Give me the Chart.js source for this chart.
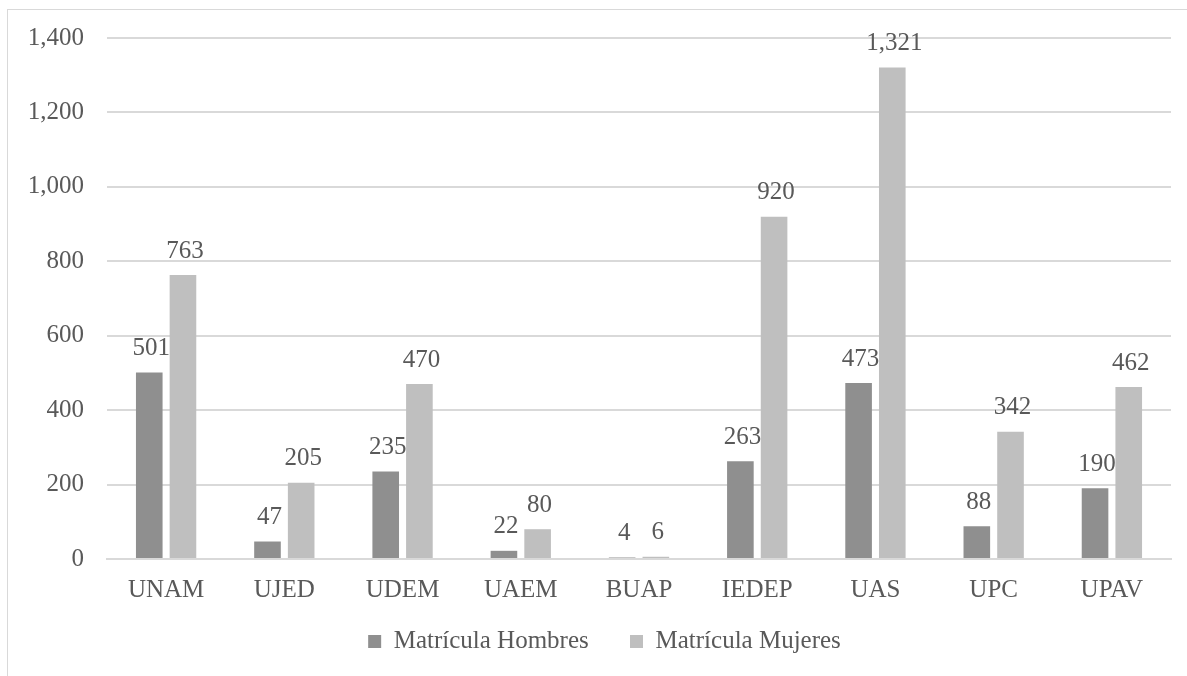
<!DOCTYPE html>
<html>
<head>
<meta charset="utf-8">
<script src="https://cdn.jsdelivr.net/npm/chart.js@4/dist/chart.umd.min.js"></script>
<style>
  html, body { margin: 0; padding: 0; background: #fff; overflow: hidden; }
  #frame {
    position: absolute; left: 7px; top: 9px;
    width: 1200px; height: 700px;
    border: 1px solid #d9d9d9;
  }
  #wrap { position: absolute; left: 0; top: 0; width: 1187px; height: 676px; }
</style>
</head>
<body>
<div id="frame"></div>
<div id="wrap"><canvas id="chart" width="1187" height="676"></canvas></div>
<script>
// =====================
// Data
// =====================
const universidades = ["UNAM", "UJED", "UDEM", "UAEM", "BUAP", "IEDEP", "UAS", "UPC", "UPAV"];
const matriculaHombres = [501, 47, 235, 22, 4, 263, 473, 88, 190];
const matriculaMujeres = [763, 205, 470, 80, 6, 920, 1321, 342, 462];
const ejeYTicks = [0, 200, 400, 600, 800, 1000, 1200, 1400];

const textColor = "#595959";
const fontFamily = "'Liberation Serif', 'Times New Roman', serif";

// =====================
// Value labels above bars
// =====================
const valueLabels = {
    id: "valueLabels",
    afterDatasetsDraw(chart) {
        const ctx = chart.ctx;
        ctx.save();
        ctx.font = `25px ${fontFamily}`;
        ctx.fillStyle = textColor;
        ctx.textAlign = "center";
        ctx.textBaseline = "middle";
        chart.data.datasets.forEach((ds, i) => {
            chart.getDatasetMeta(i).data.forEach((bar, j) => {
                ctx.fillText(ds.data[j].toLocaleString("en-US"), bar.x + 2, bar.y - 24);
            });
        });
        ctx.restore();
    }
};

// legend sits a bit right of the canvas centre in the original
const legendShift = {
    id: "legendShift",
    afterLayout(chart) {
        chart.legend.left += 15;
        chart.legend.right += 15;
    }
};

Chart.defaults.font.family = fontFamily;
Chart.defaults.font.size = 25;
Chart.defaults.color = textColor;

new Chart(document.getElementById("chart"), {
    type: "bar",
    data: {
        labels: universidades,
        datasets: [
            { label: "Matrícula Hombres", data: matriculaHombres, backgroundColor: "#8f8f8f" },
            { label: "Matrícula Mujeres", data: matriculaMujeres, backgroundColor: "#bfbfbf" }
        ]
    },
    options: {
        responsive: false,
        animation: false,
        categoryPercentage: 0.57,
        barPercentage: 0.79,
        layout: { padding: { top: 37, left: 8, right: 16, bottom: 12 } },
        plugins: {
            legend: {
                position: "bottom",
                labels: {
                    boxWidth: 13, boxHeight: 13, padding: 10, font: { size: 25 }, color: textColor,
                    // wider gap between the two legend items, like the original
                    generateLabels: chart => {
                        const items = Chart.defaults.plugins.legend.labels.generateLabels(chart);
                        items.forEach((it, i) => { if (i < items.length - 1) it.text += "     "; });
                        return items;
                    }
                }
            },
            tooltip: { enabled: false }
        },
        scales: {
            x: {
                grid: { display: false, drawTicks: false },
                border: { color: "#d9d9d9", width: 2 },
                ticks: { padding: 16, color: textColor },
                afterFit: scale => { scale.height = 60; }
            },
            y: {
                min: 0,
                max: 1400,
                afterBuildTicks: scale => { scale.ticks = ejeYTicks.map(v => ({ value: v })); },
                afterFit: scale => { scale.width = 99; },
                grid: { color: "#d9d9d9", lineWidth: 2, drawTicks: false },
                border: { display: false },
                ticks: {
                    padding: 23,
                    color: textColor,
                    callback: v => v.toLocaleString("en-US")
                }
            }
        }
    },
    plugins: [valueLabels, legendShift]
});
</script>
</body>
</html>
